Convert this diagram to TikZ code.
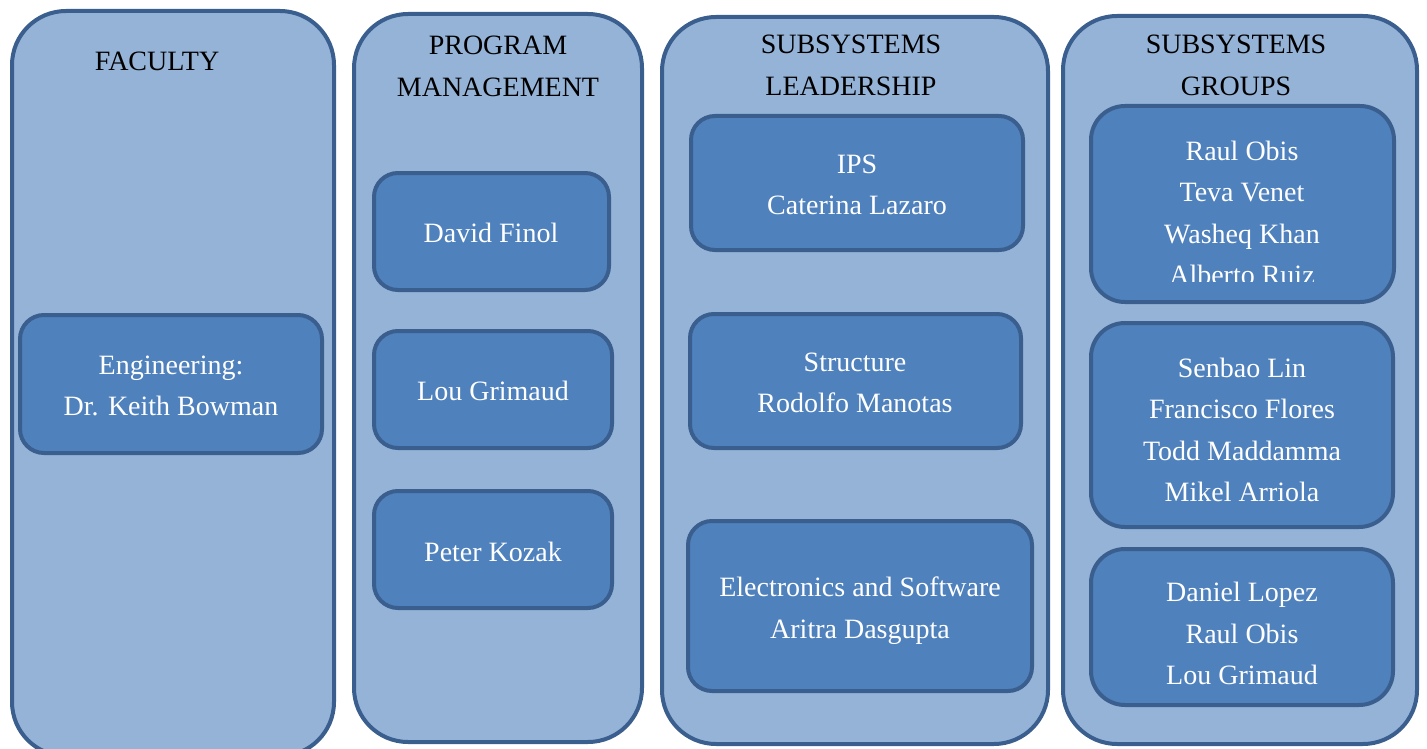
\documentclass[tikz,border=0pt]{standalone}
\usepackage{fontspec}
\setmainfont{Liberation Serif}
\definecolor{outerfill}{HTML}{95B3D7}
\definecolor{innerfill}{HTML}{4F81BD}
\definecolor{edge}{HTML}{3A5F8E}
\tikzset{
  column/.style={draw=edge, fill=outerfill, line width=4pt, rounded corners=54pt, inner sep=0pt},
  member/.style={draw=edge, fill=innerfill, line width=4pt, rounded corners=24pt, inner sep=0pt},
  crew/.style={member, rounded corners=34pt},
  heading/.style={text=black, font=\fontsize{28}{42}\selectfont, align=center, inner sep=0pt},
  names/.style={text=white, font=\fontsize{28}{41.5}\selectfont, align=center, inner sep=0pt},
}
\begin{document}
\begin{tikzpicture}[x=1pt,y=-1pt]
\useasboundingbox (0,0) rectangle (1427,749);

% columns
\node[column, minimum width=322pt, minimum height=745pt] (faculty) at (173,383.5) {};
\node[column, minimum width=288pt, minimum height=728pt] (program) at (498,378) {};
\node[column, minimum width=386pt, minimum height=727pt] (leaders) at (855,380.5) {};
\node[column, minimum width=354pt, minimum height=728pt] (groups) at (1240,380) {};

% column headings
\node[heading] (hfac) at (157,61.5) {FACULTY};
\node[heading] (hprog) at (498,66.5) {PROGRAM\\MANAGEMENT};
\node[heading] (hlead) at (851,65.5) {SUBSYSTEMS\\LEADERSHIP};
\node[heading] (hgrp) at (1236,65.5) {SUBSYSTEMS\\GROUPS};

% faculty
\node[member, minimum width=302pt, minimum height=138pt] (eng) at (171,384) {};
\node[names] (tEng) at (171,386) {Engineering:\\Dr. Keith Bowman};

% program management
\node[member, minimum width=235pt, minimum height=117pt] (finol) at (491.5,231.5) {};
\node[names] (tFinol) at (491,232.5) {David Finol};
\node[member, minimum width=238pt, minimum height=117pt] (grimaud) at (493,389.5) {};
\node[names] (tGrimaud) at (493,390.5) {Lou Grimaud};
\node[member, minimum width=238pt, minimum height=117pt] (kozak) at (493,549.5) {};
\node[names] (tKozak) at (493,551.5) {Peter Kozak};

% subsystems leadership
\node[member, minimum width=332pt, minimum height=134pt] (ips) at (857,183) {};
\node[names] (tIps) at (857,185) {IPS\\Caterina Lazaro};
\node[member, minimum width=331pt, minimum height=134pt] (struct) at (855.5,381) {};
\node[names] (tStruct) at (855,383) {Structure\\Rodolfo Manotas};
\node[member, minimum width=344pt, minimum height=170pt] (elec) at (860,606) {};
\node[names] (tElec) at (860,610.5) {Electronics and Software\\Aritra Dasgupta};

% subsystems groups
\node[crew, minimum width=303pt, minimum height=196pt] (g1) at (1242.5,204) {};
\begin{scope}
  \clip (1091,106) rectangle (1394,281);
  \node[names] (tG1) at (1242,213) {Raul Obis\\Teva Venet\\Washeq Khan\\Alberto Ruiz};
\end{scope}
\node[crew, minimum width=302pt, minimum height=204pt] (g2) at (1242,425) {};
\node[names] (tG2) at (1242,430) {Senbao Lin\\Francisco Flores\\Todd Maddamma\\Mikel Arriola};
\node[crew, minimum width=302pt, minimum height=156pt] (g3) at (1242,627) {};
\node[names] (tG3) at (1242,633.5) {Daniel Lopez\\Raul Obis\\Lou Grimaud};
\end{tikzpicture}
\end{document}
